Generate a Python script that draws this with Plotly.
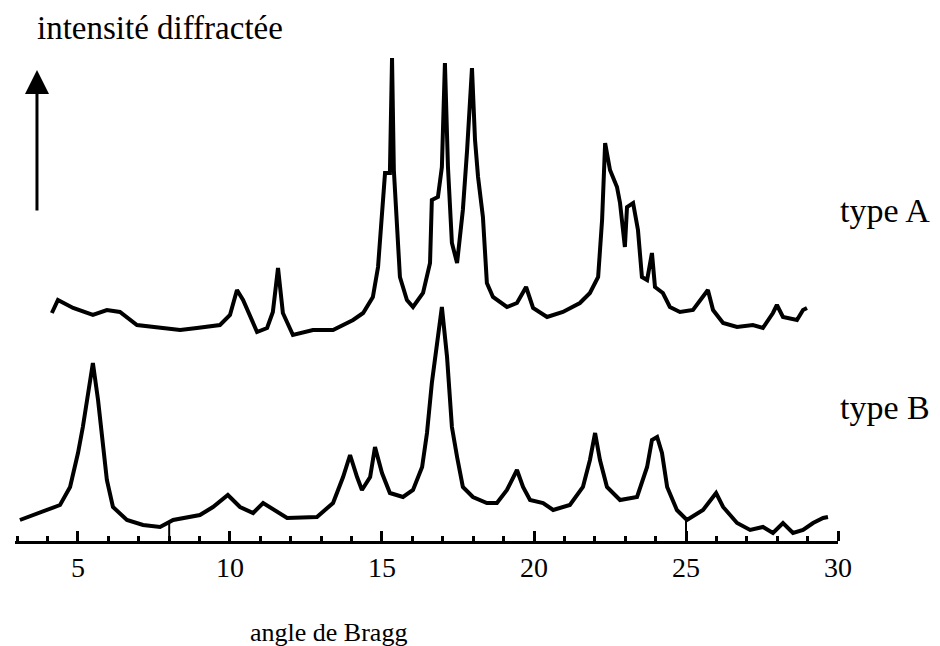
import numpy as np
import plotly.graph_objects as go

# angle de Bragg (2θ, degrés) et intensité diffractée (unités arbitraires)
angle_A = [4.14, 4.34, 4.84, 5.49, 5.95, 6.38, 6.94, 7.60, 8.36, 8.91, 9.67, 10.00, 10.23, 10.43,
           10.66, 10.89, 11.22, 11.41, 11.58, 11.74, 12.07, 12.73, 13.39, 14.05, 14.38, 14.70,
           14.87, 15.00, 15.10, 15.26, 15.33, 15.39, 15.49, 15.59, 15.82, 16.02, 16.35, 16.58,
           16.64, 16.84, 16.97, 17.07, 17.17, 17.30, 17.47, 17.57, 17.66, 17.80, 17.96, 18.06,
           18.16, 18.32, 18.45, 18.65, 19.11, 19.44, 19.74, 19.97, 20.43, 20.95, 21.51, 21.84,
           22.11, 22.24, 22.34, 22.50, 22.73, 22.83, 22.99, 23.06, 23.26, 23.42, 23.55, 23.72,
           23.88, 23.98, 24.24, 24.47, 24.80, 25.23, 25.72, 25.89, 26.22, 26.68, 27.20, 27.53,
           27.86, 27.99, 28.19, 28.65, 28.85, 28.98]
int_A = [229, 242, 234, 227, 232, 230, 217, 215, 212, 214, 217, 227, 252, 242,
         225, 210, 214, 230, 274, 229, 207, 212, 212, 222, 229, 245,
         275, 322, 369, 369, 484, 372, 325, 265, 242, 235, 249, 279,
         342, 345, 375, 479, 375, 299, 279, 305, 332, 392, 474, 402,
         365, 325, 259, 245, 235, 239, 255, 234, 225, 230, 239, 249,
         265, 322, 399, 372, 355, 339, 295, 335, 339, 312, 265, 262,
         289, 255, 249, 235, 230, 232, 252, 232, 219, 215, 217, 214,
         229, 237, 225, 222, 232, 234]

angle_B = [3.09, 3.75, 4.41, 4.74, 5.00, 5.16, 5.33, 5.49, 5.66, 5.79, 5.95, 6.15, 6.61, 7.14,
           7.70, 8.13, 9.01, 9.44, 9.93, 10.33, 10.76, 11.09, 11.55, 11.88, 12.86, 13.39, 13.72,
           13.95, 14.18, 14.34, 14.61, 14.77, 15.00, 15.26, 15.69, 16.02, 16.32, 16.48, 16.64,
           16.81, 16.97, 17.14, 17.30, 17.47, 17.66, 17.99, 18.45, 18.78, 19.11, 19.44, 19.64,
           19.87, 20.30, 20.63, 21.18, 21.61, 21.84, 22.01, 22.17, 22.40, 22.83, 23.39, 23.72,
           23.88, 24.05, 24.21, 24.38, 24.70, 25.03, 25.56, 25.99, 26.22, 26.68, 27.11, 27.53,
           27.86, 28.19, 28.52, 28.85, 29.18, 29.51, 29.67]
int_B = [22, 29, 37, 55, 89, 115, 145, 179, 142, 102, 62, 35, 22, 17,
         15, 22, 27, 35, 47, 35, 29, 39, 30, 24, 25, 39, 65,
         87, 65, 52, 65, 95, 69, 49, 45, 52, 75, 109, 159,
         199, 235, 185, 115, 85, 55, 45, 39, 39, 52, 72, 55,
         42, 39, 32, 37, 55, 82, 109, 82, 55, 42, 45, 75,
         102, 105, 89, 55, 32, 22, 32, 49, 35, 19, 12, 15,
         9, 19, 9, 12, 19, 24, 25]

major_ticks = [5, 10, 15, 20, 25, 30]
tick_labels = ["5", "10", "15", "20", "25", "30"]
drop_lines = [8, 25]  # traits verticaux reliant la courbe B à l'axe

FONT = "Liberation Serif"
LINE = dict(color="black", width=4)
X_RANGE = [2.928, 30]

fig = go.Figure()
fig.add_trace(go.Scatter(x=angle_A, y=int_A, mode="lines", line=LINE, name="type A",
                         cliponaxis=False))
fig.add_trace(go.Scatter(x=angle_B, y=int_B, mode="lines", line=LINE, name="type B",
                         cliponaxis=False))
# trace invisible pour activer l'axe de graduation (xaxis2)
fig.add_trace(go.Scatter(x=angle_B, y=int_B, mode="lines", xaxis="x2", yaxis="y",
                         line=dict(width=0, color="rgba(0,0,0,0)"), opacity=0,
                         hoverinfo="skip", showlegend=False))

for a in drop_lines:
    yv = float(np.interp(a, angle_B, int_B))
    fig.add_shape(type="line", xref="x", yref="y", x0=a, x1=a, y0=0, y1=yv,
                  line=dict(color="black", width=2))

fig.update_layout(
    width=940, height=646,
    margin=dict(l=15, r=102, t=40, b=104),
    paper_bgcolor="white", plot_bgcolor="white",
    showlegend=False,
    font=dict(family=FONT, color="black", size=30),
    # axe des données : seulement les étiquettes en bas
    xaxis=dict(range=X_RANGE, showgrid=False, zeroline=False, showline=False,
               tickmode="array", tickvals=major_ticks, ticktext=tick_labels,
               ticks="", ticklabelstandoff=6,
               tickfont=dict(family=FONT, size=28, color="black")),
    # axe de graduation : trait + graduations dirigées vers le haut
    xaxis2=dict(range=X_RANGE, overlaying="x", side="top", anchor="free", position=0,
                showgrid=False, zeroline=False, showline=True, linecolor="black",
                linewidth=3, showticklabels=False,
                tickmode="array", tickvals=major_ticks,
                ticks="outside", ticklen=10, tickwidth=2.5, tickcolor="black",
                minor=dict(dtick=1, tick0=3, ticks="outside", ticklen=5, tickwidth=2.5,
                           tickcolor="black", showgrid=False)),
    yaxis=dict(range=[0, 502], visible=False),
)

fig.add_annotation(text="intensité diffractée", xref="paper", yref="paper",
                   x=0.0243, y=1.024, xanchor="left", yanchor="middle",
                   showarrow=False, font=dict(family=FONT, size=33))
fig.add_annotation(text="type A", xref="paper", yref="paper",
                   x=1.0, y=0.661, xanchor="left", yanchor="middle",
                   showarrow=False, font=dict(family=FONT, size=34))
fig.add_annotation(text="type B", xref="paper", yref="paper",
                   x=1.0, y=0.268, xanchor="left", yanchor="middle",
                   showarrow=False, font=dict(family=FONT, size=34))
fig.add_annotation(text="angle de Bragg", xref="paper", yref="paper",
                   x=0.3815, y=-0.181, xanchor="center", yanchor="middle",
                   showarrow=False, font=dict(family=FONT, size=26))
fig.add_annotation(text="", xref="paper", yref="paper", x=0.0267, y=0.94,
                   ax=0, ay=142, showarrow=True, arrowhead=2, arrowsize=1.6,
                   arrowwidth=3, arrowcolor="black")

fig.write_html("out.html")
